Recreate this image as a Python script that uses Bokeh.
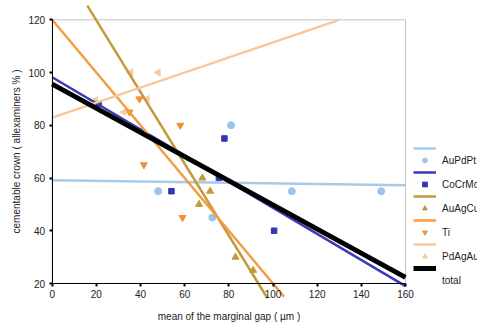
import numpy as np
from bokeh.plotting import figure
from bokeh.models import (Range1d, SingleIntervalTicker, BoxAnnotation, Legend,
                          LegendItem, ColumnDataSource)
from bokeh.core.properties import value
from bokeh.embed import file_html
from bokeh.resources import INLINE

# ---- data ----
series_names = ["AuPdPt", "CoCrMo", "AuAgCu", "Ti", "PdAgAu"]

aupdpt_x = [48, 72.5, 81, 108.5, 149]
aupdpt_y = [55, 45, 80, 55, 55]

cocrmo_x = [21, 54, 75.5, 78, 100.5]
cocrmo_y = [88, 55, 60, 75, 40]

auagcu_x = [66.5, 68, 71.5, 83, 91]
auagcu_y = [50, 60, 55, 30, 25]

ti_x = [35, 39.5, 41.5, 58, 59]
ti_y = [85, 90, 65, 80, 45]

pdagau_x = [19.5, 32.5, 35.5, 43, 48]
pdagau_y = [89.5, 85, 100, 90, 100]

# linear trend lines (intercept, slope) and their drawn x extent
trend_names = ["AuPdPt", "CoCrMo", "AuAgCu", "Ti", "PdAgAu", "total"]
trend_intercept = [59.2, 98.2, 147.0, 120.0, 82.9, 95.6]
trend_slope = [-0.012, -0.495, -1.36, -1.0, 0.285, -0.458]
trend_x_start = [0, 0, 15.9, 0, 0, 0]
trend_x_end = [160, 160, 97.5, 105, 130, 160]

x_axis_min, x_axis_max = 0, 160
y_axis_min, y_axis_max = 20, 120
x_ticks_interval = 20
y_ticks_interval = 20

# ---- styles ----
point_colors = ["#9dc4e8", "#3535b5", "#c49a3c", "#ee9230", "#f8c9a0"]
line_colors = ["#a6cbea", "#3a3ab8", "#c49a3c", "#f39c40", "#f8c89c", "#000000"]
line_widths = [2.5, 2.5, 2.5, 2.5, 2.5, 5]
markers = ["circle", "square", "triangle", "inverted_triangle", "triangle"]
marker_sizes = [7, 5.5, 7, 7, 7]
marker_angles = [0, 0, 0, 0, np.pi / 2]

FONT = "Liberation Sans"

# the frame covers the whole canvas; axes are placed at fixed data positions
W, H = 477, 333
px_x0, px_x1 = 51.7, 405.0     # pixel columns of x=0 and x=160
px_y120, px_y20 = 19.3, 283.0  # pixel rows of y=120 and y=20
sx = (px_x1 - px_x0) / (x_axis_max - x_axis_min)
sy = (px_y20 - px_y120) / (y_axis_max - y_axis_min)
xr = Range1d(x_axis_min - px_x0 / sx, x_axis_min + (W - px_x0) / sx)
yr = Range1d(y_axis_max - (H - px_y120) / sy, y_axis_max + px_y120 / sy)

p = figure(width=W, height=H, x_range=xr, y_range=yr,
           output_backend="svg", toolbar_location=None,
           min_border=0, min_border_left=0, min_border_right=0,
           min_border_top=0, min_border_bottom=0)
p.outline_line_color = None
p.xgrid.visible = False
p.ygrid.visible = False
p.background_fill_color = "white"
p.border_fill_color = "white"

frame_box = BoxAnnotation(left=x_axis_min, right=x_axis_max, bottom=y_axis_min, top=y_axis_max,
                          fill_alpha=0, line_color="#3a3a3a", line_width=1, level="underlay")
p.add_layout(frame_box)

xs_all = [aupdpt_x, cocrmo_x, auagcu_x, ti_x, pdagau_x]
ys_all = [aupdpt_y, cocrmo_y, auagcu_y, ti_y, pdagau_y]

scatter_rs = []
for i, name in enumerate(series_names):
    src = ColumnDataSource(dict(x=xs_all[i], y=ys_all[i]))
    r = p.scatter("x", "y", source=src, marker=markers[i], size=marker_sizes[i],
                  angle=marker_angles[i], fill_color=point_colors[i],
                  line_color=point_colors[i])
    scatter_rs.append(r)

line_rs = []
for i, name in enumerate(trend_names):
    xl = [trend_x_start[i], trend_x_end[i]]
    yl = [trend_intercept[i] + trend_slope[i] * x for x in xl]
    r = p.line(xl, yl, line_color=line_colors[i], line_width=line_widths[i])
    line_rs.append(r)

dummy = p.scatter([], [], marker="circle", size=1, fill_alpha=0, line_alpha=0)

# axes
for ax in (p.xaxis[0], p.yaxis[0]):
    ax.axis_line_color = "black"
    ax.axis_line_width = 1
    ax.major_tick_line_color = "black"
    ax.major_tick_line_width = 2
    ax.major_tick_out = 3
    ax.major_tick_in = 0
    ax.minor_tick_line_color = None
    ax.major_label_text_font = FONT
    ax.major_label_text_font_size = "10px"
    ax.major_label_text_color = "#222222"
    ax.axis_label_text_font = FONT
    ax.axis_label_text_font_size = "10px"
    ax.axis_label_text_font_style = "normal"
    ax.axis_label_text_color = "#222222"

p.xaxis.ticker = SingleIntervalTicker(interval=x_ticks_interval)
p.yaxis.ticker = SingleIntervalTicker(interval=y_ticks_interval)
p.xaxis.bounds = (x_axis_min, x_axis_max)
p.yaxis.bounds = (y_axis_min, y_axis_max)
p.xaxis.fixed_location = y_axis_min
p.yaxis.fixed_location = x_axis_min
p.xaxis.axis_label = "mean of the marginal gap ( µm )"
p.yaxis.axis_label = "cementable crown ( allexaminers % )"
p.xaxis.major_label_standoff = 2
p.yaxis.major_label_standoff = 3
p.xaxis.axis_label_standoff = 10
p.yaxis.axis_label_standoff = 4

items = []
for i, name in enumerate(series_names):
    items.append(LegendItem(label=value(" "), renderers=[line_rs[i]]))
    items.append(LegendItem(label=value(name), renderers=[scatter_rs[i]]))
items.append(LegendItem(label=value(" "), renderers=[line_rs[5]]))
items.append(LegendItem(label=value("total"), renderers=[dummy]))

legend = Legend(items=items, location=(413, 47), glyph_width=23, glyph_height=12,
                label_height=12, spacing=0, padding=0, margin=0,
                border_line_color=None, background_fill_alpha=0,
                label_text_font=FONT, label_text_font_size="10px",
                label_text_color="#222222", label_standoff=6)
p.add_layout(legend)

open("out.html", "w").write(file_html(p, INLINE))
